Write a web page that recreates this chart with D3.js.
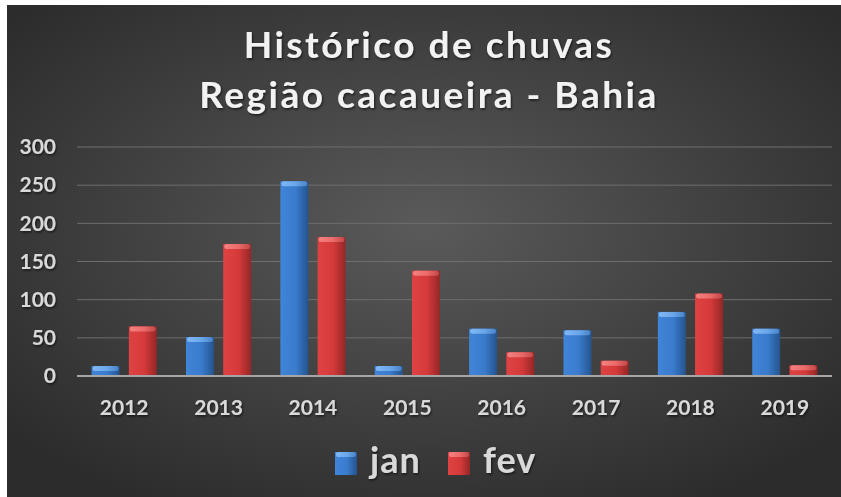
<!DOCTYPE html>
<html><head><meta charset="utf-8">
<script src="https://cdn.jsdelivr.net/npm/d3@7"></script>
<style>
html,body{margin:0;padding:0;background:#fff;}
svg{display:block;}
text{font-family:Lato,"Open Sans",sans-serif;font-weight:700;}
</style></head><body>
<script>
const years = ["2012","2013","2014","2015","2016","2017","2018","2019"];
const janValues = [13, 51, 255, 13, 62, 60, 84, 62];
const fevValues = [65, 173, 182, 138, 31, 20, 108, 14];
const seriesNames = ["jan","fev"];
const yTicks = [0,50,100,150,200,250,300];
const titleLines = ["Histórico de chuvas","Região cacaueira - Bahia"];

const W = 841, H = 497;
const svg = d3.select("body").append("svg").attr("width", W).attr("height", H);
const defs = svg.append("defs");

const bg = defs.append("radialGradient").attr("id","bg").attr("cx","50%").attr("cy","45%").attr("r","65%");
bg.append("stop").attr("offset","0%").attr("stop-color","#5a5a5a");
bg.append("stop").attr("offset","100%").attr("stop-color","#2c2c2c");

function barGrad(id, c1, c2, c3){
  const g = defs.append("linearGradient").attr("id",id).attr("x1","0").attr("x2","1").attr("y1","0").attr("y2","0");
  g.append("stop").attr("offset","0%").attr("stop-color",c1);
  g.append("stop").attr("offset","55%").attr("stop-color",c2);
  g.append("stop").attr("offset","100%").attr("stop-color",c3);
}
barGrad("gjan","#4085d9","#3a7bcc","#24548f");
barGrad("gfev","#df4242","#d53a3a","#952626");
barGrad("cjan","#80b8f3","#6aa6ea","#4a84c8");
barGrad("cfev","#f38282","#ec6a6a","#c24848");

const sh = defs.append("filter").attr("id","ts").attr("x","-10%").attr("y","-20%").attr("width","130%").attr("height","150%");
sh.append("feDropShadow").attr("dx",1).attr("dy",1.5).attr("stdDeviation",1.2).attr("flood-color","#000").attr("flood-opacity",0.6);

svg.append("rect").attr("x",7).attr("y",5).attr("width",W-7).attr("height",H-5).attr("fill","url(#bg)");

// Title
svg.selectAll("text.title").data(titleLines).join("text")
  .attr("class","title")
  .attr("x", 429).attr("y",(d,i)=>58 + i*50)
  .attr("text-anchor","middle").attr("fill","#f2f2f2").attr("font-size",37)
  .attr("letter-spacing",2.5)
  .attr("filter","url(#ts)")
  .text(d=>d);

const x0 = d3.scaleBand().domain(years).range([77,832]).paddingInner(0.31).paddingOuter(0.155);
const x1 = d3.scaleBand().domain(seriesNames).range([0,x0.bandwidth()]).paddingInner(0.25);
const y = d3.scaleLinear().domain([0,300]).range([376,147]);

// gridlines
svg.append("g").selectAll("line").data(yTicks.filter(t=>t>0)).join("line")
  .attr("x1",77).attr("x2",832).attr("y1",d=>y(d)).attr("y2",d=>y(d))
  .attr("stroke","#6e6e6e").attr("stroke-width",1);

// y axis labels
const yAxis = d3.axisLeft(y).tickValues(yTicks).tickSize(0).tickPadding(0);
const gy = svg.append("g").attr("transform","translate(56,0)").call(yAxis);
gy.select(".domain").remove();
gy.selectAll("text").attr("font-size",21).attr("fill","#d9d9d9").attr("filter","url(#ts)")
  .style("font-family","Lato").style("font-weight","700");

// bars
const data = years.map((yr,i)=>({year:yr, vals:[{s:"jan",v:janValues[i]},{s:"fev",v:fevValues[i]}]}));
const groups = svg.append("g").selectAll("g").data(data).join("g")
  .attr("transform",d=>`translate(${x0(d.year)},0)`);
groups.selectAll("rect.bar").data(d=>d.vals).join("rect").attr("class","bar")
  .attr("x",d=>x1(d.s)).attr("width",x1.bandwidth())
  .attr("y",d=>y(d.v)).attr("height",d=>y(0)-y(d.v))
  .attr("fill",d=>`url(#g${d.s})`);
groups.selectAll("rect.cap").data(d=>d.vals).join("rect").attr("class","cap")
  .attr("x",d=>x1(d.s)+1).attr("width",x1.bandwidth()-2)
  .attr("y",d=>y(d.v)).attr("height",5).attr("rx",2.5)
  .attr("fill",d=>`url(#c${d.s})`);

// baseline axis
const xAxis = d3.axisBottom(x0).tickSize(0).tickPadding(24);
const gx = svg.append("g").attr("transform",`translate(0,${y(0)})`).call(xAxis);
gx.select(".domain").attr("stroke","#a6a6a6").attr("stroke-width",2).attr("d","M77,0H832");
gx.selectAll("text").attr("font-size",21).attr("fill","#d9d9d9").attr("filter","url(#ts)")
  .style("font-family","Lato").style("font-weight","700");

// legend
const lx = [335, 448];
const lg = svg.append("g").selectAll("g").data(seriesNames).join("g")
  .attr("transform",(d,i)=>`translate(${lx[i]},452)`);
lg.append("rect").attr("width",22).attr("height",23).attr("fill",d=>`url(#g${d})`);
lg.append("rect").attr("x",1).attr("width",20).attr("height",5).attr("rx",2).attr("fill",d=>`url(#c${d})`);
lg.append("text").attr("x",35).attr("y",21).attr("font-size",36).attr("letter-spacing",1).attr("fill","#d9d9d9")
  .attr("filter","url(#ts)").text(d=>d);
</script>
</body></html>
